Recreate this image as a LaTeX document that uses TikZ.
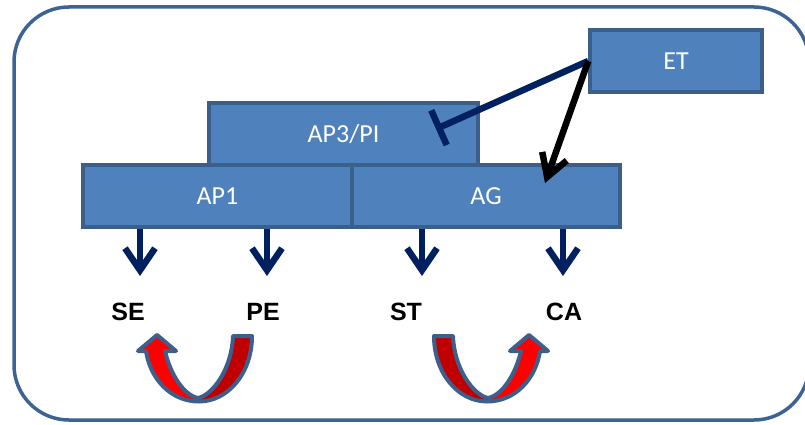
\documentclass[tikz,border=0pt]{standalone}
\usepackage{fontspec}
\setmainfont{Carlito}
\newfontfamily\arialfont{Liberation Sans}
\usetikzlibrary{arrows.meta}

\definecolor{boxfill}{HTML}{4F81BD}
\definecolor{boxline}{HTML}{3A5F8B}
\definecolor{frameline}{HTML}{3B6494}
\definecolor{navy}{HTML}{002060}
\definecolor{brightred}{HTML}{FF0000}
\definecolor{deepred}{HTML}{C00000}
\definecolor{turnline}{HTML}{3D5F8C}

\tikzset{
  % U-shaped block arrow: tail on the right, head on the left,
  % origin at the cusp where both branches meet
  uturn/.pic={
    \def\turnpath{(35,-62) -- (54,-62)
      .. controls (54,-25) and (30,3.5) .. (1,3.5)
      .. controls (-28,3.5) and (-48,-20) .. (-52,-47)
      -- (-60,-47) -- (-41,-63) -- (-22,-47) -- (-33,-47)
      .. controls (-28,-25) and (-15,-3) .. (0,0)
      .. controls (15,-3) and (34,-30) .. (35,-62) -- cycle}
    \fill[brightred] \turnpath;
    \begin{scope}
      \clip (0,-80) rectangle (70,10);
      \fill[deepred] \turnpath;
    \end{scope}
    \draw[turnline, line width=4pt, line join=round] \turnpath;
  }
}

\begin{document}
\begin{tikzpicture}[x=1pt,y=-1pt,
  block/.style={draw=boxline, fill=boxfill, line width=3.5pt, text=white,
    font=\fontsize{26}{28}\selectfont, inner sep=0pt},
  gene/.style={font=\arialfont\bfseries\fontsize{25}{27}\selectfont, inner sep=0pt},
  downarrow/.style={draw=navy, line width=6.5pt,
    -{Straight Barb[length=22pt,width=30pt]}},
  inhibit/.style={draw=navy, line width=6.5pt, -{Bar[width=38pt]}},
  activate/.style={draw=black, line width=6.5pt,
    -{Straight Barb[length=22pt,width=26pt]}}
]
\useasboundingbox (0,0) rectangle (805,425);
\clip (0,0) rectangle (805,425);

% outer frame
\draw[frameline, line width=3.5pt, rounded corners=55pt] (14,7) rectangle (809,420);

% protein blocks
\node[block, minimum width=269pt, minimum height=62pt] (AP3) at (343.5,134) {AP3/PI};
\node[block, minimum width=269pt, minimum height=62pt] (AP1) at (217.5,196) {AP1};
\node[block, minimum width=268pt, minimum height=62pt] (AG)  at (486,196) {AG};
\node[block, minimum width=172pt, minimum height=62pt] (ET)  at (676,61) {ET};

% regulation from ET
\coordinate (ap3Stop) at (436,129);
\coordinate (agTip) at (545,183);
\draw[inhibit] (ET.west) -- (ap3Stop);
\draw[activate] (ET.west) -- (agTip);

% organ identity labels
\node[gene] (SE) at (128,312) {SE};
\node[gene] (PE) at (263,312) {PE};
\node[gene] (ST) at (406,312) {ST};
\node[gene] (CA) at (564,312) {CA};

% downward arrows from the blocks
\coordinate (seTip) at (140,276);
\coordinate (peTip) at (267,276);
\coordinate (stTip) at (422,276);
\coordinate (caTip) at (563,276);
\draw[downarrow] (seTip |- AP1.south) -- (seTip);
\draw[downarrow] (peTip |- AP1.south) -- (peTip);
\draw[downarrow] (stTip |- AG.south) -- (stTip);
\draw[downarrow] (caTip |- AG.south) -- (caTip);

% U-turn arrows between neighbouring organs
\pic at (198,398) {uturn};
\pic[xscale=-1] at (488,398) {uturn};
\end{tikzpicture}
\end{document}
